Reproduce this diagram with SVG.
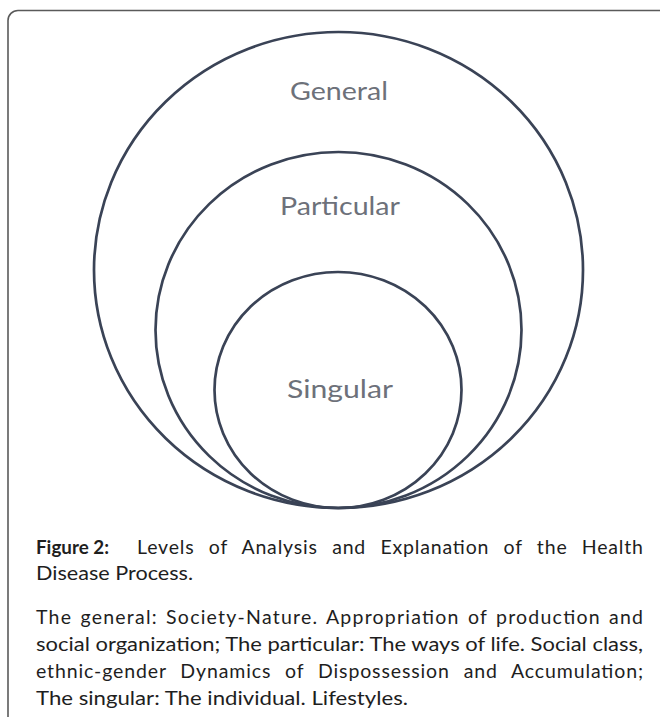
<svg xmlns="http://www.w3.org/2000/svg" width="660" height="717" viewBox="0 0 660 717">
  <style>
    .ring { fill: none; stroke: #3a4356; stroke-width: 2.7; }
    .lbl { font-family: Lato, "Open Sans", "Liberation Sans", sans-serif; font-size: 25px; fill: #6d717a; text-anchor: middle; }
    .cap { font-family: Lato, "Open Sans", "Liberation Sans", sans-serif; font-size: 19.5px; fill: #1e1e1e; }
    .b { font-weight: bold; }
  </style>
  <rect x="8" y="10.5" width="720" height="780" rx="10" ry="10" fill="#ffffff" stroke="#5a5a5a" stroke-width="1.6"/>
  <g id="general">
    <ellipse class="ring" cx="338.5" cy="270" rx="244.5" ry="238"/>
    <text class="lbl" x="339" y="100" textLength="98" lengthAdjust="spacingAndGlyphs">General</text>
  </g>
  <g id="particular">
    <ellipse class="ring" cx="338.5" cy="330" rx="183" ry="178"/>
    <text class="lbl" x="340" y="215" textLength="120" lengthAdjust="spacingAndGlyphs">Particular</text>
  </g>
  <g id="singular">
    <ellipse class="ring" cx="338" cy="390" rx="123.5" ry="118"/>
    <text class="lbl" x="340" y="398" textLength="106" lengthAdjust="spacingAndGlyphs">Singular</text>
  </g>
  <g id="connectors"/>
  <g id="caption">
    <text class="cap b" x="36" y="554" textLength="73" lengthAdjust="spacingAndGlyphs">Figure 2:</text>
    <text class="cap" x="137" y="554" word-spacing="8.5" textLength="506" lengthAdjust="spacing">Levels of Analysis and Explanation of the Health</text>
    <text class="cap" x="36" y="580" textLength="157" lengthAdjust="spacingAndGlyphs">Disease Process.</text>
    <text class="cap" x="36" y="624" word-spacing="2" textLength="607" lengthAdjust="spacing">The general: Society-Nature. Appropriation of production and</text>
    <text class="cap" x="36" y="651" textLength="607" lengthAdjust="spacingAndGlyphs">social organization; The particular: The ways of life. Social class,</text>
    <text class="cap" x="36" y="678" word-spacing="8" textLength="607" lengthAdjust="spacing">ethnic-gender Dynamics of Dispossession and Accumulation;</text>
    <text class="cap" x="36" y="705" textLength="372" lengthAdjust="spacingAndGlyphs">The singular: The individual. Lifestyles.</text>
  </g>
</svg>
